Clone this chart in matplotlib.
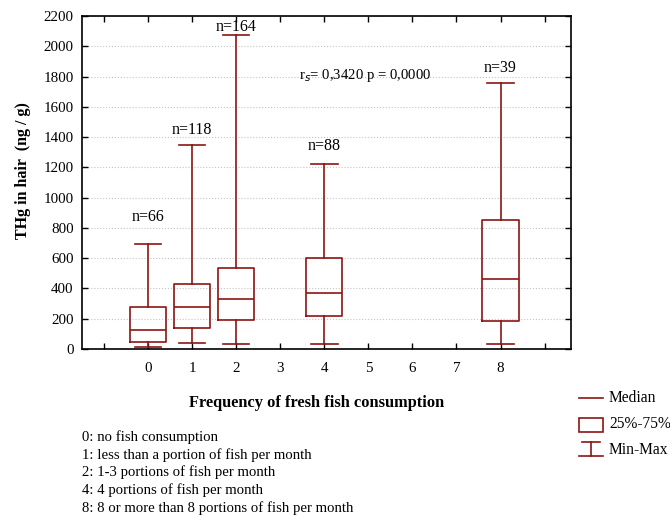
import matplotlib.pyplot as plt
from matplotlib.lines import Line2D
from matplotlib.patches import Rectangle

plt.rcParams['font.family'] = ['Liberation Serif', 'DejaVu Serif']

# fish consumption groups and THg summary stats (ng/g)
groups = [0, 1, 2, 4, 8]
mins = [13, 40, 33, 33, 35]
q1 = [46, 139, 190, 220, 185]
medians = [125, 277, 332, 372, 464]
q3 = [277, 431, 533, 603, 850]
maxs = [693, 1345, 2076, 1220, 1759]
counts = [66, 118, 164, 88, 39]
count_label_y = [870, 1450, 2130, 1340, 1855]

notes = ["0: no fish consumption",
         "1: less than a portion of fish per month",
         "2: 1-3 portions of fish per month",
         "4: 4 portions of fish per month",
         "8: 8 or more than 8 portions of fish per month"]

red = '#8b1414'
W, H = 670, 516

fig = plt.figure(figsize=(6.7, 5.16), dpi=100)
ax = fig.add_axes([82 / W, 1 - 349 / H, 489 / W, 333 / H])

stats = []
for lo, a, m, b, hi in zip(mins, q1, medians, q3, maxs):
    stats.append({'whislo': lo, 'q1': a, 'med': m, 'q3': b, 'whishi': hi, 'fliers': []})

lp = dict(color=red, linewidth=1.2)
ax.bxp(stats, positions=groups, widths=0.82, capwidths=0.6, showfliers=False,
       boxprops=lp, whiskerprops=lp, capprops=lp, medianprops=lp,
       manage_ticks=False)

for g, y, n in zip(groups, count_label_y, counts):
    ax.text(g, y, f"n={n}", ha='center', va='center', fontsize=11.5)

ax.text(4.93, 1810, r"r$_s$= 0,3420 p = 0,0000", ha='center', va='center', fontsize=10.6)

ax.set_xlim(-1.5, 9.6)
ax.set_ylim(0, 2200)
ax.set_xticks(range(-1, 10))
ax.set_xticklabels(['', '0', '1', '2', '3', '4', '5', '6', '7', '8', ''])
ax.set_yticks(range(0, 2201, 200))
ax.tick_params(direction='in', top=True, right=True, labelsize=10.8, length=4, width=1)
ax.tick_params(axis='x', pad=9)
ax.tick_params(axis='y', pad=6)
ax.yaxis.grid(True, linestyle=':', color='#c4c4c4', linewidth=0.8)
ax.set_axisbelow(True)
for s in ax.spines.values():
    s.set_linewidth(1.2)

ax.set_ylabel("THg in hair  (ng / g)", fontsize=11.5, fontweight='bold')
ax.yaxis.set_label_coords(-0.104, 0.537)
ax.set_xlabel("Frequency of fresh fish consumption", fontsize=11.8, fontweight='bold')
ax.xaxis.set_label_coords(0.48, (349 - 395) / 333)

for i, t in enumerate(notes):
    fig.text(82 / W, 1 - (437 + 17.8 * i) / H, t, fontsize=10.6, va='center')

# legend symbols
fig.add_artist(Line2D([579 / W, 603 / W], [1 - 398 / H] * 2, color=red, lw=1.2))
fig.text(609 / W, 1 - 398 / H, "Median", fontsize=11.2, va='center')
fig.add_artist(Rectangle((579 / W, 1 - 432 / H), 24 / W, 14 / H,
                         fill=False, edgecolor=red, lw=1.2))
fig.text(609 / W, 1 - 424 / H, "25%-75%", fontsize=11.2, va='center')
fig.add_artist(Line2D([582 / W, 600 / W], [1 - 442 / H] * 2, color=red, lw=1.2))
fig.add_artist(Line2D([591 / W, 591 / W], [1 - 442 / H, 1 - 456 / H], color=red, lw=1.2))
fig.add_artist(Line2D([579 / W, 603 / W], [1 - 456 / H] * 2, color=red, lw=1.2))
fig.text(609 / W, 1 - 450 / H, "Min-Max", fontsize=11.2, va='center')

fig.savefig("out.png", dpi=100)
